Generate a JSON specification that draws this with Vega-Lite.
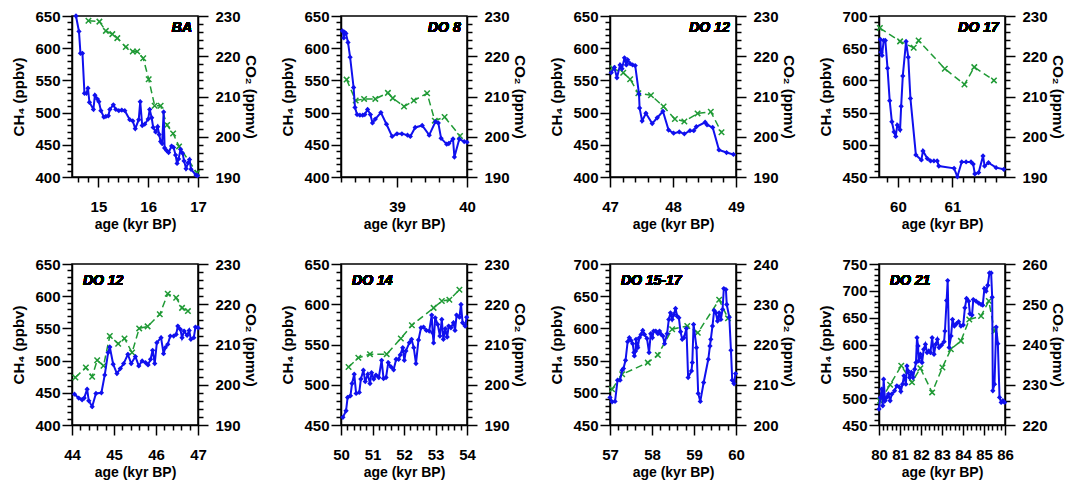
{
"$schema":"https://vega.github.io/schema/vega-lite/v6.json",
"padding":{"left":11,"top":8,"right":3,"bottom":0},
"background":"white",
"columns":4,
"spacing":{"row":24,"column":22},
"config":{
 "view":{"stroke":"black","strokeWidth":1.5},
 "axis":{"labelFont":"Liberation Sans","labelFontWeight":"bold","labelFontSize":15,"labelColor":"black","titleFont":"Liberation Sans","titleFontWeight":"bold","titleFontSize":15,"titleColor":"black","domainColor":"black","domainWidth":1.5,"tickColor":"black","tickWidth":1.5,"grid":false,"labelOverlap":false},
 "axisLeft":{"labelPadding":2,"titlePadding":8},
 "axisRight":{"labelPadding":7,"titlePadding":2},
 "axisBottom":{"labelPadding":12,"titlePadding":3,"labelFlush":false,"titleFontSize":14}
},
"datasets":{
 "p1c":[{"age":14.55,"ch4":650},{"age":14.61,"ch4":626},{"age":14.64,"ch4":592},{"age":14.68,"ch4":592},{"age":14.72,"ch4":530},{"age":14.76,"ch4":530},{"age":14.79,"ch4":538},{"age":14.82,"ch4":516},{"age":14.9,"ch4":505},{"age":14.93,"ch4":527},{"age":14.98,"ch4":521},{"age":15.01,"ch4":517},{"age":15.05,"ch4":503},{"age":15.11,"ch4":493},{"age":15.15,"ch4":494},{"age":15.2,"ch4":495},{"age":15.23,"ch4":505},{"age":15.3,"ch4":512},{"age":15.35,"ch4":505},{"age":15.41,"ch4":503},{"age":15.47,"ch4":504},{"age":15.53,"ch4":503},{"age":15.63,"ch4":489},{"age":15.69,"ch4":487},{"age":15.74,"ch4":475},{"age":15.81,"ch4":489},{"age":15.84,"ch4":517},{"age":15.88,"ch4":480},{"age":15.93,"ch4":482},{"age":16.0,"ch4":490},{"age":16.03,"ch4":505},{"age":16.07,"ch4":492},{"age":16.1,"ch4":477},{"age":16.15,"ch4":470},{"age":16.19,"ch4":478},{"age":16.22,"ch4":466},{"age":16.25,"ch4":455},{"age":16.28,"ch4":452},{"age":16.31,"ch4":501},{"age":16.33,"ch4":445},{"age":16.37,"ch4":441},{"age":16.41,"ch4":438},{"age":16.47,"ch4":448},{"age":16.51,"ch4":446},{"age":16.55,"ch4":434},{"age":16.58,"ch4":421},{"age":16.61,"ch4":428},{"age":16.65,"ch4":443},{"age":16.69,"ch4":437},{"age":16.72,"ch4":425},{"age":16.76,"ch4":413},{"age":16.8,"ch4":422},{"age":16.83,"ch4":427},{"age":16.86,"ch4":412},{"age":16.96,"ch4":403},{"age":16.99,"ch4":402}],
 "p1o":[{"age":14.8,"co2":228.8},{"age":15.02,"co2":228.6},{"age":15.15,"co2":226.3},{"age":15.28,"co2":225.5},{"age":15.38,"co2":224.5},{"age":15.55,"co2":222.3},{"age":15.69,"co2":221.2},{"age":15.78,"co2":221.2},{"age":15.9,"co2":219.5},{"age":16.01,"co2":214.3},{"age":16.13,"co2":207.7},{"age":16.25,"co2":207.7},{"age":16.38,"co2":202.9},{"age":16.5,"co2":200.8},{"age":16.62,"co2":197.6},{"age":16.98,"co2":191}],
 "p2c":[{"age":38.22,"ch4":627},{"age":38.24,"ch4":616},{"age":38.25,"ch4":625},{"age":38.27,"ch4":623},{"age":38.3,"ch4":609},{"age":38.33,"ch4":586},{"age":38.38,"ch4":539},{"age":38.4,"ch4":508},{"age":38.43,"ch4":497},{"age":38.47,"ch4":496},{"age":38.51,"ch4":496},{"age":38.54,"ch4":497},{"age":38.58,"ch4":505},{"age":38.62,"ch4":497},{"age":38.65,"ch4":484},{"age":38.69,"ch4":490},{"age":38.77,"ch4":500},{"age":38.85,"ch4":482},{"age":38.93,"ch4":463},{"age":39.0,"ch4":467},{"age":39.07,"ch4":467},{"age":39.15,"ch4":465},{"age":39.19,"ch4":463},{"age":39.26,"ch4":477},{"age":39.36,"ch4":480},{"age":39.46,"ch4":465},{"age":39.55,"ch4":486},{"age":39.59,"ch4":484},{"age":39.63,"ch4":460},{"age":39.71,"ch4":451},{"age":39.74,"ch4":452},{"age":39.8,"ch4":459},{"age":39.82,"ch4":431},{"age":39.89,"ch4":459},{"age":39.96,"ch4":455},{"age":40.0,"ch4":454}],
 "p2o":[{"age":38.28,"co2":214.2},{"age":38.41,"co2":209.0},{"age":38.53,"co2":209.4},{"age":38.69,"co2":209.4},{"age":38.87,"co2":210.9},{"age":38.94,"co2":209.6},{"age":39.1,"co2":207.5},{"age":39.24,"co2":209.0},{"age":39.43,"co2":210.8},{"age":39.54,"co2":204.0},{"age":39.68,"co2":204.9},{"age":39.9,"co2":200.2}],
 "p3c":[{"age":47.02,"ch4":562},{"age":47.07,"ch4":570},{"age":47.11,"ch4":554},{"age":47.16,"ch4":574},{"age":47.19,"ch4":568},{"age":47.23,"ch4":585},{"age":47.26,"ch4":574},{"age":47.28,"ch4":582},{"age":47.32,"ch4":576},{"age":47.36,"ch4":574},{"age":47.4,"ch4":573},{"age":47.46,"ch4":529},{"age":47.47,"ch4":507},{"age":47.51,"ch4":487},{"age":47.57,"ch4":499},{"age":47.67,"ch4":483},{"age":47.75,"ch4":492},{"age":47.84,"ch4":502},{"age":47.93,"ch4":473},{"age":48.01,"ch4":468},{"age":48.1,"ch4":470},{"age":48.18,"ch4":467},{"age":48.27,"ch4":472},{"age":48.33,"ch4":472},{"age":48.37,"ch4":478},{"age":48.51,"ch4":485},{"age":48.54,"ch4":481},{"age":48.63,"ch4":477},{"age":48.73,"ch4":442},{"age":48.85,"ch4":438},{"age":48.96,"ch4":435}],
 "p3o":[{"age":47.04,"co2":217.0},{"age":47.21,"co2":215.9},{"age":47.32,"co2":214.3},{"age":47.45,"co2":210.8},{"age":47.65,"co2":210.3},{"age":47.85,"co2":207.5},{"age":48.03,"co2":204.4},{"age":48.18,"co2":203.8},{"age":48.39,"co2":205.8},{"age":48.6,"co2":206.2},{"age":48.77,"co2":201.1}],
 "p4c":[{"age":59.68,"ch4":663.6},{"age":59.69,"ch4":643.9},{"age":59.71,"ch4":638.7},{"age":59.74,"ch4":662},{"age":59.77,"ch4":662},{"age":59.81,"ch4":619},{"age":59.85,"ch4":568.5},{"age":59.89,"ch4":535.8},{"age":59.93,"ch4":520},{"age":59.96,"ch4":513},{"age":59.99,"ch4":530.6},{"age":60.04,"ch4":523.3},{"age":60.06,"ch4":559.7},{"age":60.09,"ch4":607},{"age":60.15,"ch4":660.5},{"age":60.19,"ch4":636},{"age":60.23,"ch4":572},{"age":60.33,"ch4":484.3},{"age":60.43,"ch4":476.5},{"age":60.46,"ch4":490.5},{"age":60.54,"ch4":478.6},{"age":60.6,"ch4":475},{"age":60.66,"ch4":475},{"age":60.72,"ch4":475},{"age":60.75,"ch4":467},{"age":61.03,"ch4":463.5},{"age":61.09,"ch4":450.5},{"age":61.17,"ch4":473.4},{"age":61.25,"ch4":473.4},{"age":61.34,"ch4":473.4},{"age":61.38,"ch4":470},{"age":61.41,"ch4":454.7},{"age":61.48,"ch4":456.8},{"age":61.56,"ch4":482.7},{"age":61.59,"ch4":467},{"age":61.66,"ch4":472.3},{"age":61.8,"ch4":464.5},{"age":61.94,"ch4":462}],
 "p4o":[{"age":59.67,"co2":227.0},{"age":60.04,"co2":223.7},{"age":60.29,"co2":222.1},{"age":60.38,"co2":223.9},{"age":60.86,"co2":216.9},{"age":61.22,"co2":213.0},{"age":61.4,"co2":217.3},{"age":61.76,"co2":214.0}],
 "p5c":[{"age":44.06,"ch4":447.9},{"age":44.16,"ch4":441.8},{"age":44.24,"ch4":439.2},{"age":44.29,"ch4":441.8},{"age":44.36,"ch4":455.7},{"age":44.4,"ch4":437.6},{"age":44.48,"ch4":428.4},{"age":44.57,"ch4":449},{"age":44.7,"ch4":450},{"age":44.78,"ch4":477.8},{"age":44.86,"ch4":512.4},{"age":44.9,"ch4":521.1},{"age":44.98,"ch4":494.3},{"age":45.07,"ch4":479.9},{"age":45.15,"ch4":487.6},{"age":45.23,"ch4":495.4},{"age":45.33,"ch4":509.8},{"age":45.41,"ch4":495.4},{"age":45.51,"ch4":506.2},{"age":45.59,"ch4":491.8},{"age":45.67,"ch4":499.5},{"age":45.75,"ch4":497},{"age":45.81,"ch4":493.3},{"age":45.87,"ch4":502},{"age":45.92,"ch4":516},{"age":45.97,"ch4":495.4},{"age":46.02,"ch4":527.8},{"age":46.12,"ch4":535.6},{"age":46.18,"ch4":510.8},{"age":46.22,"ch4":520.1},{"age":46.28,"ch4":525.3},{"age":46.34,"ch4":538.1},{"age":46.42,"ch4":538.1},{"age":46.48,"ch4":540.7},{"age":46.52,"ch4":553.6},{"age":46.58,"ch4":548.5},{"age":46.62,"ch4":535.6},{"age":46.67,"ch4":545.9},{"age":46.74,"ch4":539.2},{"age":46.79,"ch4":546.9},{"age":46.83,"ch4":533},{"age":46.9,"ch4":535.6},{"age":46.94,"ch4":552.1},{"age":47.0,"ch4":551}],
 "p5o":[{"age":44.08,"co2":201.8},{"age":44.33,"co2":204.3},{"age":44.48,"co2":202.0},{"age":44.6,"co2":206.1},{"age":44.75,"co2":204.7},{"age":44.9,"co2":212.1},{"age":45.1,"co2":210.2},{"age":45.25,"co2":211.5},{"age":45.43,"co2":208.0},{"age":45.6,"co2":214.0},{"age":45.8,"co2":214.5},{"age":46.09,"co2":217.5},{"age":46.28,"co2":222.6},{"age":46.48,"co2":221.6},{"age":46.62,"co2":219.1},{"age":46.76,"co2":218.3}],
 "p6c":[{"age":50.06,"ch4":459.5},{"age":50.16,"ch4":467.7},{"age":50.21,"ch4":484.2},{"age":50.3,"ch4":486.3},{"age":50.35,"ch4":501.5},{"age":50.42,"ch4":513.1},{"age":50.48,"ch4":489.2},{"age":50.58,"ch4":490.5},{"age":50.63,"ch4":507},{"age":50.71,"ch4":518},{"age":50.77,"ch4":504},{"age":50.85,"ch4":513},{"age":50.92,"ch4":501.5},{"age":50.97,"ch4":515},{"age":51.04,"ch4":507},{"age":51.11,"ch4":512},{"age":51.2,"ch4":509},{"age":51.29,"ch4":530.4},{"age":51.35,"ch4":507.7},{"age":51.43,"ch4":509},{"age":51.5,"ch4":527.5},{"age":51.59,"ch4":522.2},{"age":51.67,"ch4":518.5},{"age":51.75,"ch4":531.7},{"age":51.83,"ch4":531.7},{"age":51.88,"ch4":537},{"age":51.96,"ch4":546},{"age":52.01,"ch4":530.4},{"age":52.06,"ch4":542},{"age":52.17,"ch4":552.3},{"age":52.24,"ch4":556.4},{"age":52.31,"ch4":546},{"age":52.38,"ch4":526.3},{"age":52.46,"ch4":555.6},{"age":52.54,"ch4":570.8},{"age":52.62,"ch4":571.6},{"age":52.71,"ch4":567.5},{"age":52.8,"ch4":566.7},{"age":52.88,"ch4":586.5},{"age":52.91,"ch4":564.6},{"age":52.94,"ch4":551.9},{"age":52.99,"ch4":583.2},{"age":53.07,"ch4":575},{"age":53.14,"ch4":560.5},{"age":53.2,"ch4":581.1},{"age":53.25,"ch4":556.4},{"age":53.31,"ch4":569.6},{"age":53.37,"ch4":559.3},{"age":53.42,"ch4":572.9},{"age":53.49,"ch4":570.8},{"age":53.57,"ch4":577},{"age":53.62,"ch4":567.5},{"age":53.67,"ch4":586.5},{"age":53.76,"ch4":584},{"age":53.81,"ch4":599.7},{"age":53.86,"ch4":577},{"age":53.94,"ch4":572.9},{"age":53.99,"ch4":584}],
 "p6o":[{"age":50.24,"co2":204.4},{"age":50.55,"co2":206.7},{"age":50.92,"co2":207.6},{"age":51.45,"co2":207.6},{"age":51.9,"co2":211.5},{"age":52.25,"co2":214.8},{"age":52.94,"co2":219.1},{"age":53.2,"co2":220.8},{"age":53.44,"co2":221.1},{"age":53.76,"co2":223.6}],
 "p7c":[{"age":57.0,"ch4":492.8},{"age":57.05,"ch4":486},{"age":57.12,"ch4":486.6},{"age":57.18,"ch4":519.6},{"age":57.24,"ch4":519.6},{"age":57.29,"ch4":535},{"age":57.32,"ch4":537.6},{"age":57.37,"ch4":550.5},{"age":57.42,"ch4":579.4},{"age":57.46,"ch4":585.6},{"age":57.5,"ch4":581.4},{"age":57.54,"ch4":576.3},{"age":57.57,"ch4":562.4},{"age":57.58,"ch4":557.2},{"age":57.61,"ch4":565},{"age":57.62,"ch4":583},{"age":57.65,"ch4":572.7},{"age":57.66,"ch4":570.1},{"age":57.7,"ch4":585.6},{"age":57.74,"ch4":590.7},{"age":57.78,"ch4":596.9},{"age":57.82,"ch4":590.7},{"age":57.88,"ch4":584.5},{"age":57.93,"ch4":562.4},{"age":57.97,"ch4":591.8},{"age":58.01,"ch4":585.6},{"age":58.04,"ch4":595.9},{"age":58.09,"ch4":595.9},{"age":58.14,"ch4":591.8},{"age":58.18,"ch4":595.9},{"age":58.22,"ch4":590.7},{"age":58.26,"ch4":588.1},{"age":58.3,"ch4":576.3},{"age":58.36,"ch4":591.8},{"age":58.4,"ch4":613.9},{"age":58.44,"ch4":624.2},{"age":58.48,"ch4":613.9},{"age":58.52,"ch4":621.6},{"age":58.56,"ch4":630.9},{"age":58.6,"ch4":619},{"age":58.64,"ch4":616.5},{"age":58.68,"ch4":594.8},{"age":58.72,"ch4":583},{"age":58.76,"ch4":585.6},{"age":58.82,"ch4":600},{"age":58.86,"ch4":523.7},{"age":58.94,"ch4":534},{"age":58.96,"ch4":546.9},{"age":58.99,"ch4":606.2},{"age":59.06,"ch4":570.1},{"age":59.1,"ch4":499},{"age":59.15,"ch4":486.6},{"age":59.23,"ch4":516},{"age":59.34,"ch4":552},{"age":59.38,"ch4":572.7},{"age":59.4,"ch4":583},{"age":59.44,"ch4":603.6},{"age":59.48,"ch4":627.8},{"age":59.52,"ch4":624.2},{"age":59.56,"ch4":611.3},{"age":59.6,"ch4":624.2},{"age":59.64,"ch4":613.9},{"age":59.68,"ch4":629.4},{"age":59.71,"ch4":661.9},{"age":59.76,"ch4":660.3},{"age":59.78,"ch4":637.1},{"age":59.84,"ch4":617.5},{"age":59.88,"ch4":566},{"age":59.91,"ch4":519.6},{"age":59.95,"ch4":514.4},{"age":59.99,"ch4":529.9}],
 "p7o":[{"age":57.05,"co2":208.9},{"age":57.29,"co2":212.6},{"age":57.9,"co2":215.5},{"age":58.14,"co2":217.4},{"age":58.48,"co2":223.8},{"age":58.84,"co2":224.6},{"age":59.09,"co2":222.9},{"age":59.6,"co2":231.1},{"age":59.81,"co2":226.5}],
 "p8c":[{"age":80.0,"ch4":479.7},{"age":80.06,"ch4":501},{"age":80.13,"ch4":516.9},{"age":80.18,"ch4":485.9},{"age":80.22,"ch4":535.4},{"age":80.29,"ch4":495.2},{"age":80.37,"ch4":501.4},{"age":80.45,"ch4":507.6},{"age":80.53,"ch4":495.2},{"age":80.61,"ch4":507.6},{"age":80.74,"ch4":513.8},{"age":80.85,"ch4":523},{"age":80.96,"ch4":521.2},{"age":81.04,"ch4":512.5},{"age":81.12,"ch4":526.1},{"age":81.19,"ch4":541.6},{"age":81.28,"ch4":526.1},{"age":81.33,"ch4":560.1},{"age":81.38,"ch4":550.9},{"age":81.46,"ch4":538.5},{"age":81.54,"ch4":547.8},{"age":81.62,"ch4":538.5},{"age":81.7,"ch4":554},{"age":81.76,"ch4":566.3},{"age":81.81,"ch4":612.7},{"age":81.86,"ch4":597.3},{"age":81.89,"ch4":569.4},{"age":81.97,"ch4":581.8},{"age":82.05,"ch4":566.3},{"age":82.13,"ch4":591.1},{"age":82.21,"ch4":600.3},{"age":82.29,"ch4":584.9},{"age":82.37,"ch4":588},{"age":82.45,"ch4":584.9},{"age":82.53,"ch4":612.7},{"age":82.62,"ch4":581.8},{"age":82.7,"ch4":600.3},{"age":82.78,"ch4":609.6},{"age":82.86,"ch4":594.2},{"age":82.98,"ch4":599.1},{"age":83.1,"ch4":605.3},{"age":83.14,"ch4":625.1},{"age":83.22,"ch4":682},{"age":83.27,"ch4":719.1},{"age":83.34,"ch4":594.2},{"age":83.43,"ch4":615.8},{"age":83.5,"ch4":646.7},{"age":83.59,"ch4":634.4},{"age":83.69,"ch4":638.7},{"age":83.79,"ch4":642.6},{"age":83.9,"ch4":634.4},{"age":84.01,"ch4":636.2},{"age":84.09,"ch4":668.4},{"age":84.17,"ch4":685.7},{"age":84.27,"ch4":680.7},{"age":84.33,"ch4":657.2},{"age":84.43,"ch4":654.8},{"age":84.49,"ch4":683.8},{"age":84.62,"ch4":680.7},{"age":84.75,"ch4":677},{"age":84.86,"ch4":674.6},{"age":84.94,"ch4":673.3},{"age":85.02,"ch4":704.2},{"age":85.1,"ch4":699.3},{"age":85.18,"ch4":710.4},{"age":85.26,"ch4":733.3},{"age":85.34,"ch4":733.3},{"age":85.39,"ch4":688.2},{"age":85.42,"ch4":513.8},{"age":85.5,"ch4":526.1},{"age":85.58,"ch4":632.5},{"age":85.66,"ch4":601.6},{"age":85.74,"ch4":501.4},{"age":85.82,"ch4":492.1},{"age":85.9,"ch4":495.2},{"age":85.98,"ch4":492.1}],
 "p8o":[{"age":80.05,"co2":226.0},{"age":80.53,"co2":230.0},{"age":81.06,"co2":234.7},{"age":81.57,"co2":230.6},{"age":81.97,"co2":234.1},{"age":82.53,"co2":228.1},{"age":83.02,"co2":234.3},{"age":83.42,"co2":238.8},{"age":83.9,"co2":240.9},{"age":84.3,"co2":246.2},{"age":84.86,"co2":247.1},{"age":85.23,"co2":250.8},{"age":85.5,"co2":243.3}]
},
"concat":[
 {"width":126,"height":161,"resolve":{"scale":{"y":"independent"}},
  "encoding":{"x":{"field":"age","type":"quantitative","scale":{"domain":[14.47,17],"nice":false,"zero":false},"axis":{"title":"age (kyr BP)","values":[14.6,14.8,15,15.2,15.4,15.6,15.8,16,16.2,16.4,16.6,16.8,17],"labelExpr":"abs(datum.value-round(datum.value))<0.01 ? format(datum.value,'d') : ''","tickSize":{"condition":{"test":"abs(datum.value-round(datum.value))<0.01","value":10},"value":5}}}},
  "layer":[
  {"data":{"name":"p1o"},"encoding":{"y":{"field":"co2","type":"quantitative","scale":{"domain":[190,230],"nice":false,"zero":false},"axis":{"orient":"right","title":"CO₂ (ppmv)","values":[190,192,194,196,198,200,202,204,206,208,210,212,214,216,218,220,222,224,226,228,230],"labelExpr":"datum.value % 10 === 0 ? datum.label : ''","tickSize":{"condition":{"test":"datum.value % 10 === 0","value":10},"value":5}}}},
   "layer":[{"mark":{"type":"line","color":"#1f9a35","strokeWidth":1.5,"strokeDash":[7,4]}},{"mark":{"type":"point","shape":"M-1,-1L1,1M-1,1L1,-1","filled":false,"size":30,"strokeWidth":1.5,"color":"#1f9a35","opacity":1}}]},
  {"data":{"name":"p1c"},"encoding":{"y":{"field":"ch4","type":"quantitative","scale":{"domain":[400,650],"nice":false,"zero":false},"axis":{"orient":"left","title":"CH₄ (ppbv)","values":[400,410,420,430,440,450,460,470,480,490,500,510,520,530,540,550,560,570,580,590,600,610,620,630,640,650],"labelExpr":"datum.value % 50 === 0 ? datum.label : ''","tickSize":{"condition":{"test":"datum.value % 50 === 0","value":10},"value":5}}}},
   "layer":[{"mark":{"type":"line","color":"#1010ee","strokeWidth":2,"point":{"shape":"diamond","filled":true,"size":28,"color":"#1010ee"}}},{"mark":{"type":"text","font":"Liberation Sans","fontSize":14,"fontWeight":"bold","fontStyle":"italic","align":"right","baseline":"alphabetic","color":"black"},"encoding":{"x":{"datum":16.88,"type":"quantitative"},"y":{"datum":625,"type":"quantitative"},"text":{"value":"BA"}}}]}
 ]},
 {"width":126,"height":161,"resolve":{"scale":{"y":"independent"}},
  "encoding":{"x":{"field":"age","type":"quantitative","scale":{"domain":[38.2,40],"nice":false,"zero":false},"axis":{"title":"age (kyr BP)","values":[38.2,38.4,38.6,38.8,39,39.2,39.4,39.6,39.8,40],"labelExpr":"abs(datum.value-round(datum.value))<0.01 ? format(datum.value,'d') : ''","tickSize":{"condition":{"test":"abs(datum.value-round(datum.value))<0.01","value":10},"value":5}}}},
  "layer":[
  {"data":{"name":"p2o"},"encoding":{"y":{"field":"co2","type":"quantitative","scale":{"domain":[190,230],"nice":false,"zero":false},"axis":{"orient":"right","title":"CO₂ (ppmv)","values":[190,192,194,196,198,200,202,204,206,208,210,212,214,216,218,220,222,224,226,228,230],"labelExpr":"datum.value % 10 === 0 ? datum.label : ''","tickSize":{"condition":{"test":"datum.value % 10 === 0","value":10},"value":5}}}},
   "layer":[{"mark":{"type":"line","color":"#1f9a35","strokeWidth":1.5,"strokeDash":[7,4]}},{"mark":{"type":"point","shape":"M-1,-1L1,1M-1,1L1,-1","filled":false,"size":30,"strokeWidth":1.5,"color":"#1f9a35","opacity":1}}]},
  {"data":{"name":"p2c"},"encoding":{"y":{"field":"ch4","type":"quantitative","scale":{"domain":[400,650],"nice":false,"zero":false},"axis":{"orient":"left","title":"CH₄ (ppbv)","values":[400,410,420,430,440,450,460,470,480,490,500,510,520,530,540,550,560,570,580,590,600,610,620,630,640,650],"labelExpr":"datum.value % 50 === 0 ? datum.label : ''","tickSize":{"condition":{"test":"datum.value % 50 === 0","value":10},"value":5}}}},
   "layer":[{"mark":{"type":"line","color":"#1010ee","strokeWidth":2,"point":{"shape":"diamond","filled":true,"size":28,"color":"#1010ee"}}},{"mark":{"type":"text","font":"Liberation Sans","fontSize":14,"fontWeight":"bold","fontStyle":"italic","align":"right","baseline":"alphabetic","color":"black"},"encoding":{"x":{"datum":39.91,"type":"quantitative"},"y":{"datum":625,"type":"quantitative"},"text":{"value":"DO 8"}}}]}
 ]},
 {"width":126,"height":161,"resolve":{"scale":{"y":"independent"}},
  "encoding":{"x":{"field":"age","type":"quantitative","scale":{"domain":[47,49],"nice":false,"zero":false},"axis":{"title":"age (kyr BP)","values":[47,47.2,47.4,47.6,47.8,48,48.2,48.4,48.6,48.8,49],"labelExpr":"abs(datum.value-round(datum.value))<0.01 ? format(datum.value,'d') : ''","tickSize":{"condition":{"test":"abs(datum.value-round(datum.value))<0.01","value":10},"value":5}}}},
  "layer":[
  {"data":{"name":"p3o"},"encoding":{"y":{"field":"co2","type":"quantitative","scale":{"domain":[190,230],"nice":false,"zero":false},"axis":{"orient":"right","title":"CO₂ (ppmv)","values":[190,192,194,196,198,200,202,204,206,208,210,212,214,216,218,220,222,224,226,228,230],"labelExpr":"datum.value % 10 === 0 ? datum.label : ''","tickSize":{"condition":{"test":"datum.value % 10 === 0","value":10},"value":5}}}},
   "layer":[{"mark":{"type":"line","color":"#1f9a35","strokeWidth":1.5,"strokeDash":[7,4]}},{"mark":{"type":"point","shape":"M-1,-1L1,1M-1,1L1,-1","filled":false,"size":30,"strokeWidth":1.5,"color":"#1f9a35","opacity":1}}]},
  {"data":{"name":"p3c"},"encoding":{"y":{"field":"ch4","type":"quantitative","scale":{"domain":[400,650],"nice":false,"zero":false},"axis":{"orient":"left","title":"CH₄ (ppbv)","values":[400,410,420,430,440,450,460,470,480,490,500,510,520,530,540,550,560,570,580,590,600,610,620,630,640,650],"labelExpr":"datum.value % 50 === 0 ? datum.label : ''","tickSize":{"condition":{"test":"datum.value % 50 === 0","value":10},"value":5}}}},
   "layer":[{"mark":{"type":"line","color":"#1010ee","strokeWidth":2,"point":{"shape":"diamond","filled":true,"size":28,"color":"#1010ee"}}},{"mark":{"type":"text","font":"Liberation Sans","fontSize":14,"fontWeight":"bold","fontStyle":"italic","align":"right","baseline":"alphabetic","color":"black"},"encoding":{"x":{"datum":48.9,"type":"quantitative"},"y":{"datum":625,"type":"quantitative"},"text":{"value":"DO 12"}}}]}
 ]},
 {"width":126,"height":161,"resolve":{"scale":{"y":"independent"}},
  "encoding":{"x":{"field":"age","type":"quantitative","scale":{"domain":[59.654,61.963],"nice":false,"zero":false},"axis":{"title":"age (kyr BP)","values":[59.8,60,60.2,60.4,60.6,60.8,61,61.2,61.4,61.6,61.8],"labelExpr":"abs(datum.value-round(datum.value))<0.01 ? format(datum.value,'d') : ''","tickSize":{"condition":{"test":"abs(datum.value-round(datum.value))<0.01","value":10},"value":5}}}},
  "layer":[
  {"data":{"name":"p4o"},"encoding":{"y":{"field":"co2","type":"quantitative","scale":{"domain":[190,230],"nice":false,"zero":false},"axis":{"orient":"right","title":"CO₂ (ppmv)","values":[190,192,194,196,198,200,202,204,206,208,210,212,214,216,218,220,222,224,226,228,230],"labelExpr":"datum.value % 10 === 0 ? datum.label : ''","tickSize":{"condition":{"test":"datum.value % 10 === 0","value":10},"value":5}}}},
   "layer":[{"mark":{"type":"line","color":"#1f9a35","strokeWidth":1.5,"strokeDash":[7,4]}},{"mark":{"type":"point","shape":"M-1,-1L1,1M-1,1L1,-1","filled":false,"size":30,"strokeWidth":1.5,"color":"#1f9a35","opacity":1}}]},
  {"data":{"name":"p4c"},"encoding":{"y":{"field":"ch4","type":"quantitative","scale":{"domain":[450,700],"nice":false,"zero":false},"axis":{"orient":"left","title":"CH₄ (ppbv)","values":[450,460,470,480,490,500,510,520,530,540,550,560,570,580,590,600,610,620,630,640,650,660,670,680,690,700],"labelExpr":"datum.value % 50 === 0 ? datum.label : ''","tickSize":{"condition":{"test":"datum.value % 50 === 0","value":10},"value":5}}}},
   "layer":[{"mark":{"type":"line","color":"#1010ee","strokeWidth":2,"point":{"shape":"diamond","filled":true,"size":28,"color":"#1010ee"}}},{"mark":{"type":"text","font":"Liberation Sans","fontSize":14,"fontWeight":"bold","fontStyle":"italic","align":"right","baseline":"alphabetic","color":"black"},"encoding":{"x":{"datum":61.85,"type":"quantitative"},"y":{"datum":675,"type":"quantitative"},"text":{"value":"DO 17"}}}]}
 ]},
 {"width":126,"height":161,"resolve":{"scale":{"y":"independent"}},
  "encoding":{"x":{"field":"age","type":"quantitative","scale":{"domain":[44,47],"nice":false,"zero":false},"axis":{"title":"age (kyr BP)","values":[44,44.2,44.4,44.6,44.8,45,45.2,45.4,45.6,45.8,46,46.2,46.4,46.6,46.8,47],"labelExpr":"abs(datum.value-round(datum.value))<0.01 ? format(datum.value,'d') : ''","tickSize":{"condition":{"test":"abs(datum.value-round(datum.value))<0.01","value":10},"value":5}}}},
  "layer":[
  {"data":{"name":"p5o"},"encoding":{"y":{"field":"co2","type":"quantitative","scale":{"domain":[190,230],"nice":false,"zero":false},"axis":{"orient":"right","title":"CO₂ (ppmv)","values":[190,192,194,196,198,200,202,204,206,208,210,212,214,216,218,220,222,224,226,228,230],"labelExpr":"datum.value % 10 === 0 ? datum.label : ''","tickSize":{"condition":{"test":"datum.value % 10 === 0","value":10},"value":5}}}},
   "layer":[{"mark":{"type":"line","color":"#1f9a35","strokeWidth":1.5,"strokeDash":[7,4]}},{"mark":{"type":"point","shape":"M-1,-1L1,1M-1,1L1,-1","filled":false,"size":30,"strokeWidth":1.5,"color":"#1f9a35","opacity":1}}]},
  {"data":{"name":"p5c"},"encoding":{"y":{"field":"ch4","type":"quantitative","scale":{"domain":[400,650],"nice":false,"zero":false},"axis":{"orient":"left","title":"CH₄ (ppbv)","values":[400,410,420,430,440,450,460,470,480,490,500,510,520,530,540,550,560,570,580,590,600,610,620,630,640,650],"labelExpr":"datum.value % 50 === 0 ? datum.label : ''","tickSize":{"condition":{"test":"datum.value % 50 === 0","value":10},"value":5}}}},
   "layer":[{"mark":{"type":"line","color":"#1010ee","strokeWidth":2,"point":{"shape":"diamond","filled":true,"size":28,"color":"#1010ee"}}},{"mark":{"type":"text","font":"Liberation Sans","fontSize":14,"fontWeight":"bold","fontStyle":"italic","align":"left","baseline":"alphabetic","color":"black"},"encoding":{"x":{"datum":44.26,"type":"quantitative"},"y":{"datum":617.4,"type":"quantitative"},"text":{"value":"DO 12"}}}]}
 ]},
 {"width":126,"height":161,"resolve":{"scale":{"y":"independent"}},
  "encoding":{"x":{"field":"age","type":"quantitative","scale":{"domain":[50,54],"nice":false,"zero":false},"axis":{"title":"age (kyr BP)","values":[50,50.2,50.4,50.6,50.8,51,51.2,51.4,51.6,51.8,52,52.2,52.4,52.6,52.8,53,53.2,53.4,53.6,53.8,54],"labelExpr":"abs(datum.value-round(datum.value))<0.01 ? format(datum.value,'d') : ''","tickSize":{"condition":{"test":"abs(datum.value-round(datum.value))<0.01","value":10},"value":5}}}},
  "layer":[
  {"data":{"name":"p6o"},"encoding":{"y":{"field":"co2","type":"quantitative","scale":{"domain":[190,230],"nice":false,"zero":false},"axis":{"orient":"right","title":"CO₂ (ppmv)","values":[190,192,194,196,198,200,202,204,206,208,210,212,214,216,218,220,222,224,226,228,230],"labelExpr":"datum.value % 10 === 0 ? datum.label : ''","tickSize":{"condition":{"test":"datum.value % 10 === 0","value":10},"value":5}}}},
   "layer":[{"mark":{"type":"line","color":"#1f9a35","strokeWidth":1.5,"strokeDash":[7,4]}},{"mark":{"type":"point","shape":"M-1,-1L1,1M-1,1L1,-1","filled":false,"size":30,"strokeWidth":1.5,"color":"#1f9a35","opacity":1}}]},
  {"data":{"name":"p6c"},"encoding":{"y":{"field":"ch4","type":"quantitative","scale":{"domain":[450,650],"nice":false,"zero":false},"axis":{"orient":"left","title":"CH₄ (ppbv)","values":[450,460,470,480,490,500,510,520,530,540,550,560,570,580,590,600,610,620,630,640,650],"labelExpr":"datum.value % 50 === 0 ? datum.label : ''","tickSize":{"condition":{"test":"datum.value % 50 === 0","value":10},"value":5}}}},
   "layer":[{"mark":{"type":"line","color":"#1010ee","strokeWidth":2,"point":{"shape":"diamond","filled":true,"size":28,"color":"#1010ee"}}},{"mark":{"type":"text","font":"Liberation Sans","fontSize":14,"fontWeight":"bold","fontStyle":"italic","align":"left","baseline":"alphabetic","color":"black"},"encoding":{"x":{"datum":50.35,"type":"quantitative"},"y":{"datum":623.9,"type":"quantitative"},"text":{"value":"DO 14"}}}]}
 ]},
 {"width":126,"height":161,"resolve":{"scale":{"y":"independent"}},
  "encoding":{"x":{"field":"age","type":"quantitative","scale":{"domain":[57,60],"nice":false,"zero":false},"axis":{"title":"age (kyr BP)","values":[57,57.2,57.4,57.6,57.8,58,58.2,58.4,58.6,58.8,59,59.2,59.4,59.6,59.8,60],"labelExpr":"abs(datum.value-round(datum.value))<0.01 ? format(datum.value,'d') : ''","tickSize":{"condition":{"test":"abs(datum.value-round(datum.value))<0.01","value":10},"value":5}}}},
  "layer":[
  {"data":{"name":"p7o"},"encoding":{"y":{"field":"co2","type":"quantitative","scale":{"domain":[200,240],"nice":false,"zero":false},"axis":{"orient":"right","title":"CO₂ (ppmv)","values":[200,202,204,206,208,210,212,214,216,218,220,222,224,226,228,230,232,234,236,238,240],"labelExpr":"datum.value % 10 === 0 ? datum.label : ''","tickSize":{"condition":{"test":"datum.value % 10 === 0","value":10},"value":5}}}},
   "layer":[{"mark":{"type":"line","color":"#1f9a35","strokeWidth":1.5,"strokeDash":[7,4]}},{"mark":{"type":"point","shape":"M-1,-1L1,1M-1,1L1,-1","filled":false,"size":30,"strokeWidth":1.5,"color":"#1f9a35","opacity":1}}]},
  {"data":{"name":"p7c"},"encoding":{"y":{"field":"ch4","type":"quantitative","scale":{"domain":[450,700],"nice":false,"zero":false},"axis":{"orient":"left","title":"CH₄ (ppbv)","values":[450,460,470,480,490,500,510,520,530,540,550,560,570,580,590,600,610,620,630,640,650,660,670,680,690,700],"labelExpr":"datum.value % 50 === 0 ? datum.label : ''","tickSize":{"condition":{"test":"datum.value % 50 === 0","value":10},"value":5}}}},
   "layer":[{"mark":{"type":"line","color":"#1010ee","strokeWidth":2,"point":{"shape":"diamond","filled":true,"size":28,"color":"#1010ee"}}},{"mark":{"type":"text","font":"Liberation Sans","fontSize":14,"fontWeight":"bold","fontStyle":"italic","align":"left","baseline":"alphabetic","color":"black"},"encoding":{"x":{"datum":57.26,"type":"quantitative"},"y":{"datum":667.4,"type":"quantitative"},"text":{"value":"DO 15-17"}}}]}
 ]},
 {"width":126,"height":161,"resolve":{"scale":{"y":"independent"}},
  "encoding":{"x":{"field":"age","type":"quantitative","scale":{"domain":[80,86],"nice":false,"zero":false},"axis":{"title":"age (kyr BP)","values":[80,80.2,80.4,80.6,80.8,81,81.2,81.4,81.6,81.8,82,82.2,82.4,82.6,82.8,83,83.2,83.4,83.6,83.8,84,84.2,84.4,84.6,84.8,85,85.2,85.4,85.6,85.8,86],"labelExpr":"abs(datum.value-round(datum.value))<0.01 ? format(datum.value,'d') : ''","tickSize":{"condition":{"test":"abs(datum.value-round(datum.value))<0.01","value":10},"value":5}}}},
  "layer":[
  {"data":{"name":"p8o"},"encoding":{"y":{"field":"co2","type":"quantitative","scale":{"domain":[220,260],"nice":false,"zero":false},"axis":{"orient":"right","title":"CO₂ (ppmv)","values":[220,222,224,226,228,230,232,234,236,238,240,242,244,246,248,250,252,254,256,258,260],"labelExpr":"datum.value % 10 === 0 ? datum.label : ''","tickSize":{"condition":{"test":"datum.value % 10 === 0","value":10},"value":5}}}},
   "layer":[{"mark":{"type":"line","color":"#1f9a35","strokeWidth":1.5,"strokeDash":[7,4]}},{"mark":{"type":"point","shape":"M-1,-1L1,1M-1,1L1,-1","filled":false,"size":30,"strokeWidth":1.5,"color":"#1f9a35","opacity":1}}]},
  {"data":{"name":"p8c"},"encoding":{"y":{"field":"ch4","type":"quantitative","scale":{"domain":[450,750],"nice":false,"zero":false},"axis":{"orient":"left","title":"CH₄ (ppbv)","values":[450,460,470,480,490,500,510,520,530,540,550,560,570,580,590,600,610,620,630,640,650,660,670,680,690,700,710,720,730,740,750],"labelExpr":"datum.value % 50 === 0 ? datum.label : ''","tickSize":{"condition":{"test":"datum.value % 50 === 0","value":10},"value":5}}}},
   "layer":[{"mark":{"type":"line","color":"#1010ee","strokeWidth":2,"point":{"shape":"diamond","filled":true,"size":28,"color":"#1010ee"}}},{"mark":{"type":"text","font":"Liberation Sans","fontSize":14,"fontWeight":"bold","fontStyle":"italic","align":"left","baseline":"alphabetic","color":"black"},"encoding":{"x":{"datum":80.52,"type":"quantitative"},"y":{"datum":710.9,"type":"quantitative"},"text":{"value":"DO 21"}}}]}
 ]}
]
}
